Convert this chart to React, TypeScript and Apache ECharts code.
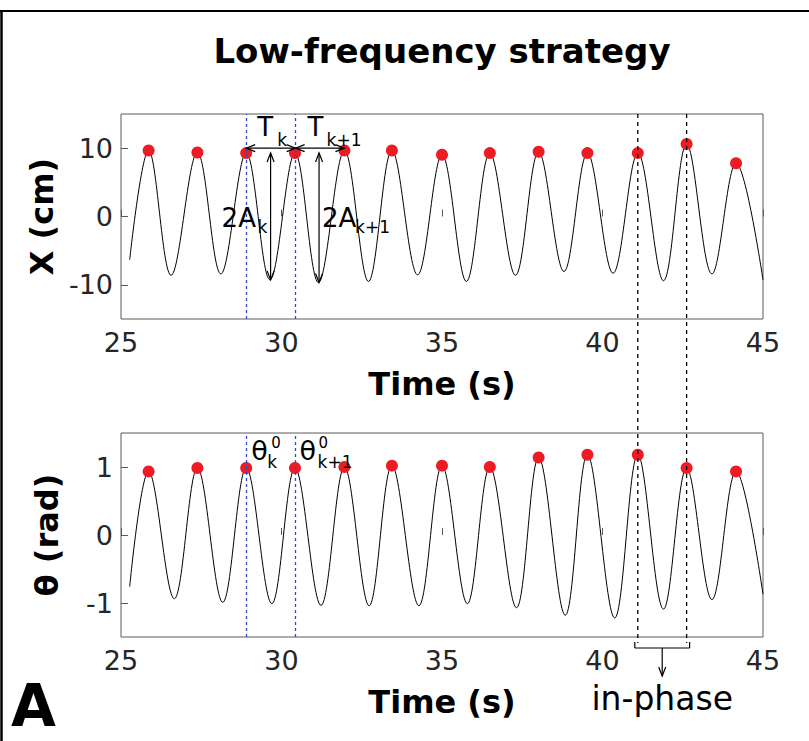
import React, { useEffect, useRef } from "react";
import * as echarts from "echarts";

// ---------- data ----------
const titleText = "Low-frequency strategy";
const timeTicks = [25, 30, 35, 40, 45];
const xTickValues = [-10, 0, 10];
const thetaTickValues = [-1, 0, 1];

// peak times (red dots) shared by both panels
const peakTimes = [25.86, 27.38, 28.9, 30.42, 31.96, 33.44, 35.0, 36.49, 38.01, 39.53, 41.1, 42.62, 44.16];
const xPeakValues = [9.66, 9.37, 9.28, 9.28, 9.66, 9.66, 9.03, 9.28, 9.47, 9.28, 9.28, 10.6, 7.8];
const thetaPeakValues = [0.935, 0.985, 0.985, 0.985, 1.0, 1.02, 1.02, 1.0, 1.14, 1.18, 1.18, 0.985, 0.935];

// troughs of X (cm)
const xTroughTimes = [26.56, 28.11, 29.64, 31.15, 32.71, 34.24, 35.76, 37.29, 38.8, 40.33, 41.9, 43.41];
const xTroughValues = [-8.6, -8.4, -9.27, -9.66, -9.5, -8.54, -9.5, -8.6, -8.05, -8.3, -9.4, -8.4];
const xStart = [25.27, -6.34];
const xEnd = [45.0, -9.27];

// troughs of theta (rad)
const thetaTroughTimes = [26.66, 28.17, 29.7, 31.23, 32.73, 34.28, 35.79, 37.32, 38.84, 40.38, 41.9, 43.41];
const thetaTroughValues = [-0.937, -0.99, -1.01, -1.035, -1.04, -1.04, -1.01, -1.07, -1.18, -1.22, -1.09, -0.95];
const thetaStart = [25.27, -0.76];
const thetaEnd = [45.0, -0.87];

// annotations (data coordinates)
const cycleBoundaries = [28.9, 30.44, 31.96]; // T_k, T_k+1
const periodArrowLevel = 10;
const amplitudeTimes = [29.66, 31.17];
const amplitudeTops = [9.3, 9.3];
const amplitudeBottoms = [-9.27, -9.66];
const inPhaseTimes = [41.1, 42.62];

const FONT = "DejaVu Sans";

function mergeCurve(start: number[], pt: number[], pv: number[], tt: number[], tv: number[], end: number[]) {
  const pts: number[][] = [start];
  pt.forEach((t, i) => pts.push([t, pv[i]]));
  tt.forEach((t, i) => pts.push([t, tv[i]]));
  pts.push(end);
  return pts.sort((a, b) => a[0] - b[0]);
}

export default function App() {
  const ref = useRef<HTMLDivElement>(null);
  useEffect(() => {
    if (!ref.current) return;
    const chart = echarts.init(ref.current, undefined, { renderer: "svg" });
    const xCurve = mergeCurve(xStart, peakTimes, xPeakValues, xTroughTimes, xTroughValues, xEnd);
    const thCurve = mergeCurve(thetaStart, peakTimes, thetaPeakValues, thetaTroughTimes, thetaTroughValues, thetaEnd);
    const axisGray = "#5a5a5a";
    const xAxisCommon = (gi: number) => ({
      type: "value",
      gridIndex: gi,
      min: 25,
      max: 45,
      interval: 5,
      axisLine: { show: false },
      axisTick: { show: true, inside: true, length: 7, lineStyle: { color: axisGray, width: 1 }, customValues: timeTicks },
      axisLabel: { fontSize: 27, color: "#262626", fontFamily: FONT, margin: 10, customValues: timeTicks },
      splitLine: { show: false },
      name: "Time (s)",
      nameLocation: "middle",
      nameGap: 49,
      nameTextStyle: { fontSize: 32, fontWeight: "bold", color: "#000", fontFamily: FONT },
    });
    const yAxisCommon = (gi: number, min: number, max: number, ticks: number[], name: string) => ({
      type: "value",
      gridIndex: gi,
      min,
      max,
      axisLine: { show: false },
      axisTick: { show: true, inside: true, length: 7, lineStyle: { color: axisGray, width: 1 }, customValues: ticks },
      axisLabel: { fontSize: 27, color: "#262626", fontFamily: FONT, margin: 8, customValues: ticks, formatter: (v: number) => String(v) },
      splitLine: { show: false },
      name,
      nameLocation: "middle",
      nameGap: 58,
      nameTextStyle: { fontSize: 32, fontWeight: "bold", color: "#000", fontFamily: FONT },
    });
    const blueMark = {
      silent: true,
      symbol: "none",
      label: { show: false },
      lineStyle: { color: "#2b4cc9", type: [3, 3], width: 1.3 },
      data: [{ xAxis: cycleBoundaries[0] }, { xAxis: cycleBoundaries[1] }],
    };
    chart.setOption({
      animation: false,
      backgroundColor: "#ffffff",
      grid: [
        { left: 121, top: 114, width: 642, height: 205, show: true, borderColor: axisGray, borderWidth: 1, backgroundColor: "transparent" },
        { left: 121, top: 433, width: 642, height: 204, show: true, borderColor: axisGray, borderWidth: 1, backgroundColor: "transparent" },
      ],
      xAxis: [xAxisCommon(0), xAxisCommon(1)],
      yAxis: [
        yAxisCommon(0, -15, 15, xTickValues, "X (cm)"),
        yAxisCommon(1, -1.5, 1.5, thetaTickValues, "θ (rad)"),
      ],
      series: [
        {
          type: "line", xAxisIndex: 0, yAxisIndex: 0, data: xCurve, smooth: 0.36, showSymbol: false,
          lineStyle: { color: "#000", width: 1 }, z: 2, markLine: blueMark,
        },
        {
          type: "scatter", xAxisIndex: 0, yAxisIndex: 0, data: peakTimes.map((t, i) => [t, xPeakValues[i]]),
          symbolSize: 12, itemStyle: { color: "#ed1c24", opacity: 1 }, z: 4,
        },
        {
          type: "line", xAxisIndex: 1, yAxisIndex: 1, data: thCurve, smooth: 0.36, showSymbol: false,
          lineStyle: { color: "#000", width: 1 }, z: 2, markLine: blueMark,
        },
        {
          type: "scatter", xAxisIndex: 1, yAxisIndex: 1, data: peakTimes.map((t, i) => [t, thetaPeakValues[i]]),
          symbolSize: 12, itemStyle: { color: "#ed1c24", opacity: 1 }, z: 4,
        },
      ],
    });

    const p0 = (t: number, v: number) => chart.convertToPixel({ gridIndex: 0 }, [t, v]) as number[];
    const p1 = (t: number, v: number) => chart.convertToPixel({ gridIndex: 1 }, [t, v]) as number[];
    const g: any[] = [];
    const ln = (x1: number, y1: number, x2: number, y2: number, extra: any = {}) =>
      g.push({ type: "line", shape: { x1, y1, x2, y2 }, style: { stroke: "#000", lineWidth: 1.2, ...extra }, z: 10 });
    const head = (tx: number, ty: number, dx: number, dy: number) => {
      const len = 9, half = 3.5;
      const px = -dy, py = dx;
      g.push({
        type: "polyline", z: 10,
        shape: { points: [[tx - dx * len + px * half, ty - dy * len + py * half], [tx, ty], [tx - dx * len - px * half, ty - dy * len - py * half]] },
        style: { stroke: "#000", lineWidth: 1.2, fill: "none" },
      });
    };
    const txt = (x: number, y: number, text: string, size: number, extra: any = {}) =>
      g.push({ type: "text", x, y, z: 11, style: { text, fontSize: size, fontFamily: FONT, fill: "#000", align: "left", verticalAlign: "middle", ...extra } });

    // frame
    ln(0, 11, 809, 11, { lineWidth: 2 });
    ln(1.5, 11, 1.5, 741, { lineWidth: 2.5 });
    // title and panel letter
    const cx = (p0(25, 0)[0] + p0(45, 0)[0]) / 2;
    txt(cx, 51, titleText, 34, { align: "center", fontWeight: "bold" });
    txt(11, 706, "A", 58, { fontWeight: "bold" });

    // in-phase dashed lines and bracket
    const topY = p0(25, 15)[1];
    const botY = p1(25, -1.5)[1];
    const ipx = inPhaseTimes.map((t) => p1(t, 0)[0]);
    ipx.forEach((x) => ln(x, topY, x, botY + 6, { lineDash: [4, 4], lineWidth: 1.3 }));
    const yb = botY + 11;
    ln(ipx[0] - 3, yb, ipx[1] + 3, yb);
    ln(ipx[0] - 3, yb - 6, ipx[0] - 3, yb);
    ln(ipx[1] + 3, yb - 6, ipx[1] + 3, yb);
    const mx = (ipx[0] + ipx[1]) / 2;
    ln(mx, yb, mx, yb + 28);
    head(mx, yb + 28, 0, 1);
    txt(mx, yb + 50, "in-phase", 33, { align: "center" });

    // period arrows
    const ay = p0(28, periodArrowLevel)[1];
    for (let i = 0; i < 2; i++) {
      const xa = p0(cycleBoundaries[i], 0)[0];
      const xb = p0(cycleBoundaries[i + 1], 0)[0];
      ln(xa, ay, xb, ay);
      head(xa, ay, -1, 0);
      head(xb, ay, 1, 0);
    }
    // amplitude arrows
    for (let i = 0; i < 2; i++) {
      const a = p0(amplitudeTimes[i], amplitudeTops[i]);
      const b = p0(amplitudeTimes[i], amplitudeBottoms[i]);
      ln(a[0], a[1], b[0], b[1]);
      head(a[0], a[1], 0, -1);
      head(b[0], b[1], 0, 1);
    }
    // T labels
    const b0 = p0(cycleBoundaries[0], 0)[0];
    const b1 = p0(cycleBoundaries[1], 0)[0];
    txt(b0 + 11, ay - 21, "T", 26);
    txt(b0 + 31, ay - 8, "k", 17);
    txt(b1 + 12, ay - 21, "T", 26);
    txt(b1 + 31, ay - 8, "k+1", 17);
    // 2A labels
    const y0 = p0(28, 0)[1];
    const a0 = p0(amplitudeTimes[0], 0)[0];
    const a1 = p0(amplitudeTimes[1], 0)[0];
    txt(a0 - 49, y0 + 1.5, "2A", 26);
    txt(a0 - 13, y0 + 10, "k", 17);
    txt(a1 + 3, y0 + 1.5, "2A", 26);
    txt(a1 + 36, y0 + 10, "k+1", 17);
    // theta labels
    const y1 = p1(28, 1)[1];
    const c0 = p1(cycleBoundaries[0], 0)[0];
    const c1 = p1(cycleBoundaries[1], 0)[0];
    txt(c0 + 5, y1 - 17, "θ", 27);
    txt(c0 + 25, y1 - 24, "0", 15);
    txt(c0 + 21, y1 - 5, "k", 17);
    txt(c1 + 4, y1 - 17, "θ", 27);
    txt(c1 + 23, y1 - 24, "0", 15);
    txt(c1 + 22, y1 - 5, "k+1", 17);

    chart.setOption({ graphic: g });
    return () => chart.dispose();
  }, []);
  return (
    <div
      ref={ref}
      style={{ position: "fixed", left: 0, top: 0, width: 809, height: 741, background: "#fff" }}
    />
  );
}
